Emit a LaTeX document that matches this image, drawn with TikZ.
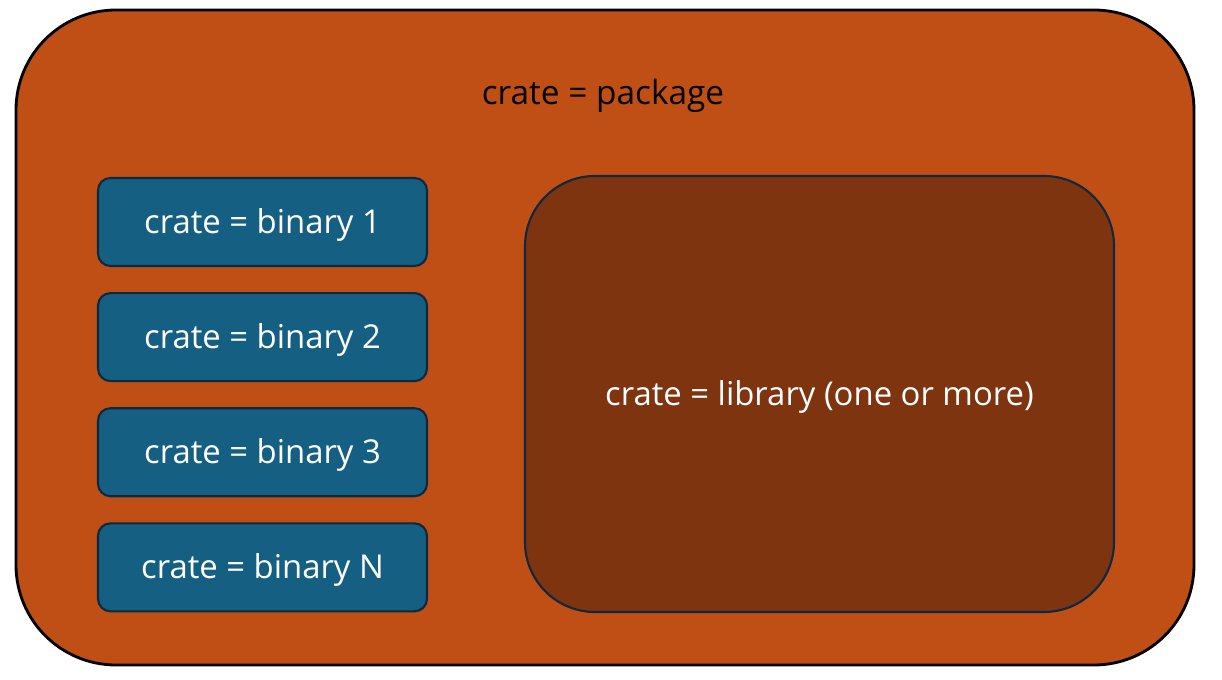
\documentclass[tikz,border=0pt]{standalone}
\usepackage{fontspec}
\setmainfont{Open Sans}
\usetikzlibrary{positioning}
\definecolor{pkgorange}{HTML}{C04F15}
\definecolor{binblue}{HTML}{156082}
\definecolor{libbrown}{HTML}{7F3410}
\definecolor{edgenavy}{HTML}{0E2841}
\begin{document}
\begin{tikzpicture}[
    pkgbox/.style={rectangle, draw=black, line width=1.6pt, fill=pkgorange, rounded corners=2cm, minimum width=23.56cm, minimum height=13.1cm},
    binbox/.style={rectangle, draw=edgenavy, line width=1.2pt, fill=binblue, rounded corners=0.25cm, minimum width=6.58cm, minimum height=1.76cm, text=white, text height=0.62cm, text depth=0.16cm, font=\fontsize{18.7}{22}\selectfont},
    libbox/.style={rectangle, draw=edgenavy, line width=1.2pt, fill=libbrown, rounded corners=1.4cm, minimum width=11.78cm, minimum height=8.72cm, text=white, text height=0.62cm, text depth=0.16cm, font=\fontsize{18.7}{22}\selectfont},
    titlenode/.style={font=\fontsize{19}{23}\selectfont, text=black, text height=0.63cm, text depth=0.16cm}
]
    \useasboundingbox (0, 0) rectangle (24.44, -13.6);

    % --- Package (outer crate) ---
    \node[pkgbox] (pkg) at (12.1, -6.75) {};
    \node[titlenode] (pkgtitle) at (12.06, -1.86) {crate = package};

    % --- Binary crates ---
    \node[binbox] (bin1) at (5.25, -4.44) {crate = binary 1};
    \node[binbox, below=0.5cm of bin1] (bin2) {crate = binary 2};
    \node[binbox, below=0.5cm of bin2] (bin3) {crate = binary 3};
    \node[binbox, below=0.5cm of bin3] (binN) {crate = binary N};

    % --- Library crate ---
    \node[libbox] (lib) at (16.39, -7.88) {crate = library (one or more)};

\end{tikzpicture}
\end{document}
